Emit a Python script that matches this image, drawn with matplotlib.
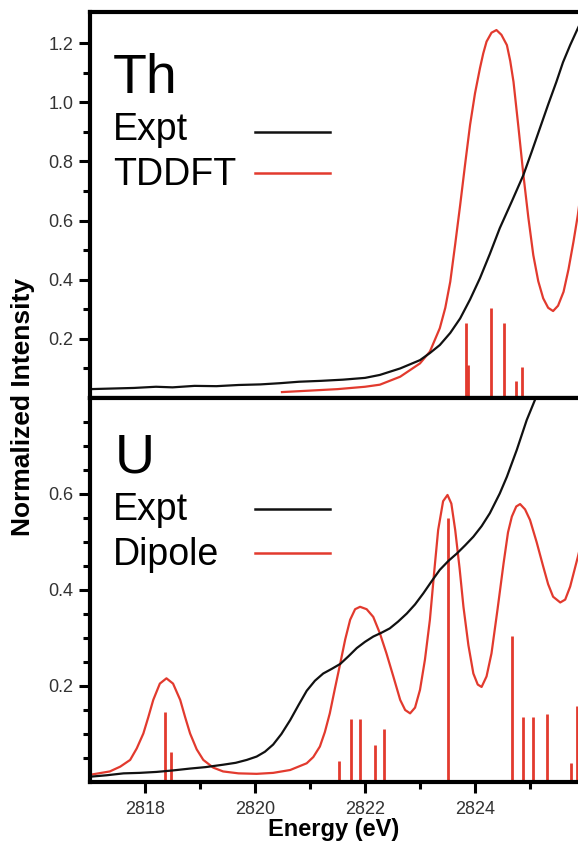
import matplotlib
matplotlib.use("Agg")
import matplotlib.pyplot as plt
from matplotlib.ticker import FixedLocator

plt.rcParams['font.family'] = ['Liberation Sans', 'DejaVu Sans']

# --- Th panel: experiment and TDDFT ---
th_expt_e = [2817.0, 2817.4, 2817.8, 2818.2, 2818.5, 2818.9, 2819.3, 2819.7, 2820.1,
             2820.45, 2820.8, 2821.2, 2821.6, 2822.0, 2822.27, 2822.64, 2823.0, 2823.18,
             2823.36, 2823.55, 2823.73, 2823.91, 2824.09, 2824.27, 2824.45, 2824.67,
             2824.88, 2825.03, 2825.18, 2825.33, 2825.48, 2825.6, 2825.73, 2825.87, 2826.0]
th_expt_i = [0.030, 0.032, 0.034, 0.038, 0.036, 0.041, 0.040, 0.044, 0.046,
             0.050, 0.055, 0.058, 0.062, 0.068, 0.078, 0.100, 0.128, 0.152,
             0.179, 0.220, 0.269, 0.333, 0.405, 0.487, 0.574, 0.665,
             0.754, 0.832, 0.912, 0.992, 1.069, 1.135, 1.193, 1.250, 1.30]

th_calc_e = [2820.49, 2821.0, 2821.5, 2822.0, 2822.27, 2822.64, 2823.0, 2823.18,
             2823.36, 2823.46, 2823.55, 2823.64, 2823.73, 2823.82, 2823.91, 2824.0,
             2824.09, 2824.15, 2824.21, 2824.3, 2824.39, 2824.48, 2824.58, 2824.64,
             2824.70, 2824.79, 2824.88, 2824.97, 2825.06, 2825.15, 2825.24, 2825.33,
             2825.42, 2825.51, 2825.61, 2825.70, 2825.79, 2825.87, 2826.0]
th_calc_i = [0.020, 0.025, 0.030, 0.038, 0.045, 0.072, 0.117, 0.157,
             0.236, 0.305, 0.393, 0.520, 0.652, 0.790, 0.923, 1.030,
             1.115, 1.165, 1.205, 1.235, 1.244, 1.228, 1.193, 1.140,
             1.069, 0.915, 0.754, 0.610, 0.483, 0.395, 0.337, 0.305,
             0.294, 0.312, 0.359, 0.435, 0.528, 0.619, 0.80]

th_stick_e = [2823.84, 2823.88, 2824.29, 2824.53, 2824.75, 2824.85]
th_stick_h = [0.253, 0.110, 0.303, 0.253, 0.057, 0.106]

# --- U panel: experiment and dipole ---
u_expt_e = [2817.0, 2817.3, 2817.61, 2817.9, 2818.21, 2818.5, 2818.82, 2819.1, 2819.42,
            2819.65, 2819.85, 2820.03, 2820.18, 2820.33, 2820.48, 2820.64, 2820.79,
            2820.94, 2821.09, 2821.24, 2821.4, 2821.55, 2821.7, 2821.85, 2822.0,
            2822.15, 2822.3, 2822.45, 2822.6, 2822.76, 2822.91, 2823.06, 2823.21,
            2823.36, 2823.52, 2823.67, 2823.82, 2823.97, 2824.12, 2824.27, 2824.45,
            2824.58, 2824.76, 2824.94, 2825.09, 2825.2]
u_expt_i = [0.011, 0.014, 0.018, 0.019, 0.021, 0.024, 0.028, 0.031, 0.036,
            0.040, 0.046, 0.053, 0.063, 0.078, 0.100, 0.129, 0.160,
            0.190, 0.211, 0.226, 0.236, 0.246, 0.262, 0.279, 0.292,
            0.303, 0.311, 0.320, 0.334, 0.351, 0.370, 0.393, 0.418,
            0.442, 0.461, 0.476, 0.493, 0.511, 0.533, 0.560, 0.601,
            0.636, 0.692, 0.754, 0.796, 0.840]

u_calc_e = [2817.0, 2817.36, 2817.55, 2817.73, 2817.85, 2817.97, 2818.06, 2818.15,
            2818.27, 2818.39, 2818.51, 2818.64, 2818.73, 2818.82, 2818.94, 2819.06,
            2819.24, 2819.42, 2819.7, 2820.03, 2820.33, 2820.64, 2820.94, 2821.06,
            2821.18, 2821.27, 2821.36, 2821.45, 2821.55, 2821.64, 2821.73, 2821.82,
            2821.91, 2822.03, 2822.15, 2822.27, 2822.39, 2822.52, 2822.64, 2822.73,
            2822.82, 2822.91, 2823.0, 2823.09, 2823.18, 2823.26, 2823.33, 2823.42,
            2823.5, 2823.57, 2823.64, 2823.72, 2823.79, 2823.88, 2823.97, 2824.05,
            2824.12, 2824.21, 2824.3, 2824.41, 2824.52, 2824.6, 2824.67, 2824.75,
            2824.82, 2824.91, 2825.0, 2825.12, 2825.24, 2825.33, 2825.42, 2825.55,
            2825.64, 2825.73, 2825.87, 2826.0]
u_calc_i = [0.015, 0.022, 0.032, 0.046, 0.070, 0.101, 0.135, 0.171,
            0.205, 0.216, 0.205, 0.171, 0.135, 0.101, 0.068, 0.046,
            0.030, 0.022, 0.018, 0.017, 0.019, 0.025, 0.039, 0.052,
            0.074, 0.104, 0.143, 0.193, 0.247, 0.297, 0.338, 0.360,
            0.365, 0.360, 0.344, 0.310, 0.268, 0.218, 0.171, 0.150,
            0.143, 0.155, 0.192, 0.255, 0.338, 0.440, 0.525, 0.585,
            0.598, 0.580, 0.525, 0.445, 0.365, 0.285, 0.226, 0.203,
            0.198, 0.220, 0.268, 0.360, 0.456, 0.520, 0.553, 0.574,
            0.579, 0.568, 0.546, 0.500, 0.449, 0.412, 0.386, 0.374,
            0.380, 0.407, 0.469, 0.53]

u_stick_e = [2818.37, 2818.47, 2821.53, 2821.74, 2821.91, 2822.19, 2822.35, 2823.5,
             2824.67, 2824.87, 2825.05, 2825.3, 2825.74, 2825.85]
u_stick_h = [0.146, 0.063, 0.044, 0.131, 0.131, 0.077, 0.110, 0.549,
             0.304, 0.136, 0.136, 0.142, 0.039, 0.158]

energy_ticks = [2818, 2820, 2822, 2824]
energy_minor = [2819, 2821, 2823, 2825]

RED = "#e23a2e"
BLACK = "#111111"

fig = plt.figure(figsize=(5.78, 8.42), dpi=100)
ax_th = fig.add_axes([90/578, 1 - 398/842, 495/578, 386/842])
ax_u = fig.add_axes([90/578, 1 - 782/842, 495/578, 384/842])


def style(ax):
    for side in ("left", "top", "bottom"):
        ax.spines[side].set_linewidth(3)
        ax.spines[side].set_zorder(6)
    ax.spines["right"].set_visible(False)
    ax.set_xlim(2817, 2826)
    ax.xaxis.set_major_locator(FixedLocator(energy_ticks))
    ax.xaxis.set_minor_locator(FixedLocator(energy_minor))
    ax.tick_params(which="major", direction="out", length=8, width=2.2,
                   labelsize=13, labelcolor="#333", pad=4)
    ax.tick_params(which="minor", direction="out", length=5, width=2.2)
    ax.tick_params(axis="x", pad=6)
    ax.tick_params(top=False, right=False)


# Th panel
ax = ax_th
style(ax)
ax.set_ylim(0, 1.305)
ax.yaxis.set_major_locator(FixedLocator([0.2, 0.4, 0.6, 0.8, 1.0, 1.2]))
ax.yaxis.set_minor_locator(FixedLocator([0.1, 0.3, 0.5, 0.7, 0.9, 1.1]))
ax.tick_params(axis="x", which="both", bottom=False, labelbottom=False)
ax.vlines(th_stick_e, 0, th_stick_h, color=RED, lw=2, zorder=2)
ax.plot(th_calc_e, th_calc_i, color=RED, lw=1.6, zorder=3)
ax.plot(th_expt_e, th_expt_i, color=BLACK, lw=1.6, zorder=4)
ax.text(0.046, 0.79, "Th", transform=ax.transAxes, fontsize=40, va="baseline")
ax.text(0.046, 0.668, "Expt", transform=ax.transAxes, fontsize=27, va="baseline")
ax.text(0.046, 0.552, "TDDFT", transform=ax.transAxes, fontsize=27, va="baseline")
ax.plot([0.333, 0.485], [0.689, 0.689], transform=ax.transAxes, color=BLACK, lw=1.8)
ax.plot([0.333, 0.485], [0.583, 0.583], transform=ax.transAxes, color=RED, lw=1.8)

# U panel
ax = ax_u
style(ax)
ax.set_ylim(0, 0.80)
ax.yaxis.set_major_locator(FixedLocator([0.2, 0.4, 0.6]))
ax.yaxis.set_minor_locator(FixedLocator([0.05, 0.1, 0.15, 0.25, 0.3, 0.35, 0.45,
                                         0.5, 0.55, 0.65, 0.7, 0.75]))
ax.vlines(u_stick_e, 0, u_stick_h, color=RED, lw=2, zorder=2)
ax.plot(u_calc_e, u_calc_i, color=RED, lw=1.6, zorder=3)
ax.plot(u_expt_e, u_expt_i, color=BLACK, lw=1.6, zorder=4)
ax.text(0.05, 0.807, "U", transform=ax.transAxes, fontsize=40, va="baseline")
ax.text(0.046, 0.682, "Expt", transform=ax.transAxes, fontsize=27, va="baseline")
ax.text(0.046, 0.565, "Dipole", transform=ax.transAxes, fontsize=27, va="baseline")
ax.plot([0.333, 0.485], [0.711, 0.711], transform=ax.transAxes, color=BLACK, lw=1.8)
ax.plot([0.333, 0.485], [0.596, 0.596], transform=ax.transAxes, color=RED, lw=1.8)

fig.text(334/578, 1 - 836/842, "Energy (eV)", ha="center", va="baseline",
         fontsize=17, fontweight="bold")
fig.text(23/578, 1 - 407/842, "Normalized Intensity", ha="center", va="center",
         rotation=90, fontsize=19, fontweight="bold")

fig.savefig("out.png", dpi=100)
